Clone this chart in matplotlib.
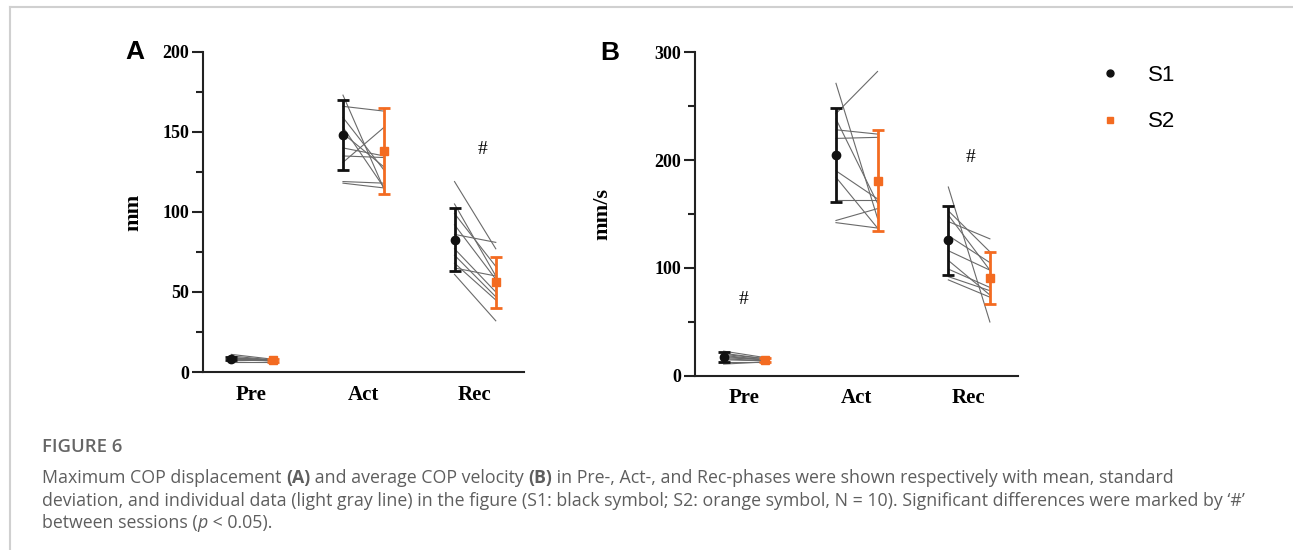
import matplotlib
matplotlib.use("Agg")
import matplotlib.pyplot as plt
from matplotlib.lines import Line2D
from matplotlib.ticker import MultipleLocator

# Phasen
phases = ["Pre", "Act", "Rec"]

# A: maximale COP-Auslenkung (mm), je Phase 10 Probanden
disp_s1 = {
    "Pre": [11, 10, 9, 9, 8.5, 8, 8, 7.5, 7, 6.5],
    "Act": [173, 166, 159, 153, 149, 140, 135, 131, 119, 118],
    "Rec": [119, 105, 99, 92, 86, 77, 73, 68, 65, 61],
}
disp_s2 = {
    "Pre": [8, 7.5, 7.5, 7, 7.5, 7, 7, 7, 7.5, 6.5],
    "Act": [114, 163, 126, 115, 128, 135, 134, 153, 118, 115],
    "Rec": [77, 60, 66, 58, 81, 50, 47, 45, 60, 32],
}
disp_mean_s1 = [8.3, 148, 82.7]
disp_sd_s1 = [1.0, 22, 19.5]
disp_mean_s2 = [7.3, 138, 56]
disp_sd_s2 = [0.8, 27, 16]

# B: mittlere COP-Geschwindigkeit (mm/s)
vel_s1 = {
    "Pre": [23, 21, 20, 19, 18, 17, 16, 15, 13, 11],
    "Act": [271, 243, 228, 220, 238, 190, 184, 163, 144, 142],
    "Rec": [175, 153, 149, 143, 130, 116, 107, 99, 92, 89],
}
vel_s2 = {
    "Pre": [17, 16, 16, 15, 15, 15, 14, 14, 13, 13],
    "Act": [146, 282, 224, 221, 160, 164, 137, 163, 155, 137],
    "Rec": [50, 115, 98, 127, 105, 98, 75, 82, 79, 73],
}
vel_mean_s1 = [17.6, 205, 125.6]
vel_sd_s1 = [4.5, 43.5, 32]
vel_mean_s2 = [15.1, 181, 90.7]
vel_sd_s2 = [2.0, 47, 24]

# Signifikanz-Markierungen (Phase-Index, y-Wert)
hash_a = [(2.07, 139)]
hash_b = [(0.0, 71), (2.02, 202)]

black = "#111111"
orange = "#f36b21"
serif = "Liberation Serif"

fig = plt.figure(figsize=(12.93, 5.5), dpi=100)


def panel(rect, s1, s2, m1, sd1, m2, sd2, ymax, major, minor, ylabel, lab_x, hashes):
    ax = fig.add_axes(rect)
    xs = list(range(len(phases)))
    off1, off2 = -0.18, 0.19
    # Einzeldaten als graue Linien
    for k, ph in enumerate(phases):
        for a, b in zip(s1[ph], s2[ph]):
            ax.plot([k + off1, k + off2], [a, b], color="#6a6a6a", lw=0.8, zorder=1)
    ax.errorbar([x + off1 for x in xs], m1, yerr=sd1, fmt="o", color=black,
                ms=6, elinewidth=2, capsize=4, capthick=2, zorder=3)
    ax.errorbar([x + off2 for x in xs], m2, yerr=sd2, fmt="s", color=orange,
                ms=6, elinewidth=2, capsize=4, capthick=2, zorder=3)
    for hx, hy in hashes:
        ax.text(hx, hy, "#", ha="center", va="center", fontsize=14, family=serif)
    ax.set_xlim(-0.435, 2.44)
    ax.set_ylim(0, ymax)
    ax.set_xticks(xs)
    ax.set_xticklabels(phases, fontsize=15, fontweight="bold", family=serif)
    ax.yaxis.set_major_locator(MultipleLocator(major))
    ax.yaxis.set_minor_locator(MultipleLocator(minor))
    for t in ax.get_yticklabels():
        t.set_family(serif)
        t.set_fontweight("bold")
        t.set_fontsize(13)
    ax.tick_params(axis="x", length=0, pad=9)
    ax.tick_params(axis="y", which="major", length=8, width=1.5, pad=2, color="#222222")
    ax.tick_params(axis="y", which="minor", length=5, width=1.5, color="#222222")
    for s in ["top", "right"]:
        ax.spines[s].set_visible(False)
    for s in ["left", "bottom"]:
        ax.spines[s].set_linewidth(1.5)
        ax.spines[s].set_color("#222222")
    ax.set_ylabel(ylabel, fontsize=16, fontweight="bold", family=serif)
    ax.yaxis.set_label_coords(lab_x, 0.5)
    ax.patch.set_alpha(0)
    return ax


panel([0.157, 0.3236, 0.248, 0.582], disp_s1, disp_s2, disp_mean_s1, disp_sd_s1,
      disp_mean_s2, disp_sd_s2, 200, 50, 25, "mm", -0.187, hash_a)
panel([0.5375, 0.3164, 0.2498, 0.589], vel_s1, vel_s2, vel_mean_s1, vel_sd_s1,
      vel_mean_s2, vel_sd_s2, 300, 100, 50, "mm/s", -0.257, hash_b)

# Panelbuchstaben
fig.text(135 / 1293, 1 - 52 / 550, "A", fontsize=19, fontweight="bold",
         family="Liberation Sans", ha="center", va="center")
fig.text(610 / 1293, 1 - 53 / 550, "B", fontsize=19, fontweight="bold",
         family="Liberation Sans", ha="center", va="center")

# Legende
handles = [Line2D([], [], marker="o", ls="none", color=black, ms=5),
           Line2D([], [], marker="s", ls="none", color=orange, ms=5)]
fig.legend(handles, ["S1", "S2"], loc="upper left", bbox_to_anchor=(1090 / 1293, 1 - 56 / 550),
           frameon=False, prop={"family": "Liberation Sans", "size": 16},
           handlelength=1.0, handletextpad=1.2, labelspacing=1.15, borderaxespad=0)

# Rahmen
fig.add_artist(Line2D([10 / 1293, 1], [1 - 7 / 550, 1 - 7 / 550], color="#d0d0d0", lw=1.5))
fig.add_artist(Line2D([10 / 1293, 10 / 1293], [0, 1 - 7 / 550], color="#d0d0d0", lw=1.5))

# Bildunterschrift
cap_font = "Open Sans"
cap_col = "#5e5e5e"
fig.text(42 / 1293, 1 - 447 / 550, "FIGURE 6", fontsize=13.3, fontweight="semibold",
         family=cap_font, color="#666666", va="center")

caption = [
    [("Maximum COP displacement ", "normal", "normal"), ("(A)", "bold", "normal"),
     (" and average COP velocity ", "normal", "normal"), ("(B)", "bold", "normal"),
     (" in Pre-, Act-, and Rec-phases were shown respectively with mean, standard", "normal", "normal")],
    [("deviation, and individual data (light gray line) in the figure (S1: black symbol; S2: orange symbol, N = 10). "
      "Significant differences were marked by \u2018#\u2019", "normal", "normal")],
    [("between sessions (", "normal", "normal"), ("p", "normal", "italic"), (" < 0.05).", "normal", "normal")],
]
line_y = [478, 501, 523]
renderer = fig.canvas.get_renderer()
for segs, yy in zip(caption, line_y):
    x = 42 / 1293
    for txt, w, st in segs:
        t = fig.text(x, 1 - yy / 550, txt, fontsize=12.8, family=cap_font, color=cap_col,
                     fontweight=w, style=st, va="center")
        bb = t.get_window_extent(renderer=renderer)
        x += bb.width / 1293

fig.savefig("out.png", dpi=100)
